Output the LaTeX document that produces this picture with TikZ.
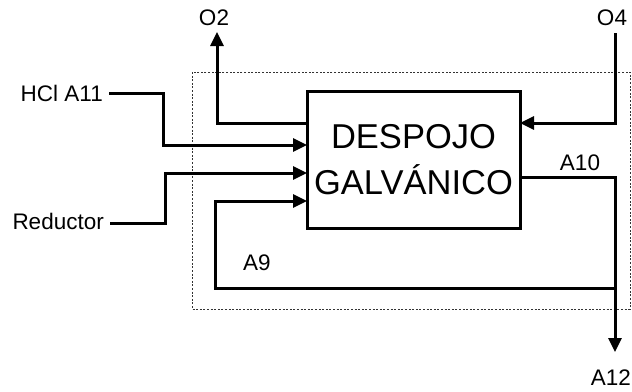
\documentclass[tikz,border=0pt]{standalone}
\usepackage{fontspec}
\setmainfont{Liberation Sans}
\usetikzlibrary{arrows.meta}
\begin{document}
\begin{tikzpicture}[x=1pt,y=-1pt,
  conn/.style={line width=3pt},
  arr/.style={conn,-{Triangle[length=14pt,width=13pt]}},
  lbl/.style={inner sep=0pt,font=\fontsize{22.5}{26}\selectfont},
  frame/.style={line width=1pt,dash pattern=on 2pt off 1.6pt,black!80},
  proc/.style={draw,line width=3pt,inner sep=0pt,minimum width=213pt,minimum height=137pt,align=center,font=\fontsize{34.5}{48}\selectfont}]
\useasboundingbox (0,0) rectangle (632,391);
% dashed boundary
\draw[frame] (192,72) rectangle (630,309);
% process box
\node[proc] (box) at (413.5,159.5) {DESPOJO\\[-2pt]GALVÁNICO};
% labels
\node[lbl] (o2) at (214,18) {O2};
\node[lbl] (o4) at (612,18) {O4};
\node[lbl,anchor=east] (hcl) at (103,93) {HCl A11};
\node[lbl,anchor=east] (red) at (104,221) {Reductor};
\node[lbl] (a10) at (580,163) {A10};
\node[lbl] (a9) at (257,263) {A9};
\node[lbl,anchor=east] (a12) at (631,378) {A12};
% junction coordinates
\coordinate (hclstart) at (109,93);
\coordinate (redstart) at (110,223);
\coordinate (o2top) at (217,32);
\coordinate (o2in) at (307,123);
\coordinate (o4top) at (615,33);
\coordinate (o4in) at (520,123);
\coordinate (hclin) at (307,145);
\coordinate (redin) at (307,173);
\coordinate (a9in) at (307,201);
\coordinate (a10out) at (520,177);
\coordinate (split) at (615,288);
\coordinate (a12tip) at (615,352);
% connectors
\draw[arr] (o2in) -- (217,123) -- (o2top);
\draw[arr] (o4top) -- (615,123) -- (o4in);
\draw[arr] (hclstart) -- (163,93) -- (163,145) -- (hclin);
\draw[arr] (redstart) -- (165,223) -- (165,173) -- (redin);
\draw[conn] (a10out) -- (615,177) -- (split);
\draw[arr] (split) -- (a12tip);
\draw[arr] (split) -- (215,288) -- (215,201) -- (a9in);
\end{tikzpicture}
\end{document}
